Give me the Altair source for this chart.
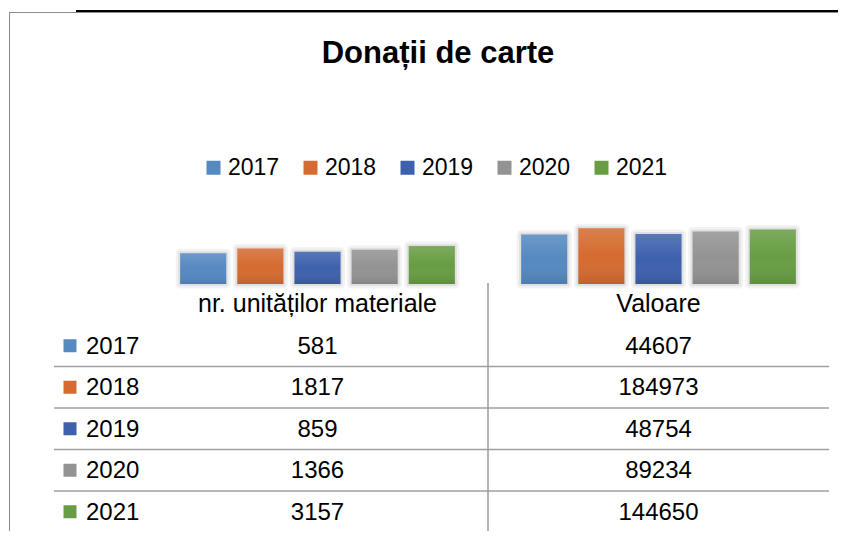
import altair as alt
import pandas as pd

title_text = "Donații de carte"
categories = ["nr. unităților materiale", "Valoare"]
years = ["2017", "2018", "2019", "2020", "2021"]
units = [581, 1817, 859, 1366, 3157]
values = [44607, 184973, 48754, 89234, 144650]
colors = ["#5589C0", "#D56B30", "#3E61AD", "#939393", "#689D44"]

rows = []
for yr, u, v in zip(years, units, values):
    rows.append({"category": categories[0], "year": yr, "value": u})
    rows.append({"category": categories[1], "year": yr, "value": v})
df = pd.DataFrame(rows)
df_years = pd.DataFrame({"year": years})
df_cats = pd.DataFrame({"category": categories})

FONT = "Liberation Sans"
W, H = 830, 523

x_scale = alt.Scale(domain=categories, range=[139, 821], paddingInner=0, paddingOuter=0)
xoff_scale = alt.Scale(domain=years, paddingInner=0.193, paddingOuter=0.58)
y_bar = alt.Scale(type="log", domain=[0.5, 1e6], range=[276, 213], nice=False)
row_scale = alt.Scale(domain=years, range=[317, 524.5], paddingInner=0, paddingOuter=0)
color_scale = alt.Scale(domain=years, range=colors)

X = alt.X("category:N", scale=x_scale, axis=None)

base_bar = alt.Chart(df).encode(
    x=X,
    xOffset=alt.XOffset("year:N", scale=xoff_scale),
    y=alt.Y("value:Q", scale=y_bar, axis=None),
    y2=alt.datum(0.5),
)

shadow1 = base_bar.mark_bar(fill="#000", fillOpacity=0, stroke="#000",
                            strokeOpacity=0.05, strokeWidth=9, strokeJoin="round")
shadow2 = base_bar.mark_bar(fill="#000", fillOpacity=0, stroke="#000",
                            strokeOpacity=0.07, strokeWidth=4, strokeJoin="round")

bars = base_bar.mark_bar().encode(
    color=alt.Color(
        "year:N", scale=color_scale,
        legend=alt.Legend(
            title=None, orient="none", legendX=194, legendY=148,
            direction="horizontal", columns=5, symbolType="square",
            symbolSize=196, symbolStrokeWidth=0, symbolOpacity=1,
            labelFontSize=23, labelFont=FONT, labelColor="#000",
            labelOffset=3, columnPadding=19, padding=0,
        ),
    )
)

overlay = base_bar.mark_bar(
    fill=alt.Gradient(
        gradient="linear",
        stops=[
            alt.GradientStop(color="rgba(255,255,255,0.14)", offset=0),
            alt.GradientStop(color="rgba(255,255,255,0.0)", offset=0.5),
            alt.GradientStop(color="rgba(0,0,0,0.10)", offset=1),
        ],
        x1=0, x2=0, y1=0, y2=1,
    )
)

title = alt.Chart(pd.DataFrame({"t": [title_text]})).mark_text(
    font=FONT, fontSize=31, fontWeight="bold", color="#000", baseline="alphabetic"
).encode(x=alt.value(430), y=alt.value(55), text="t:N")

headers = alt.Chart(df_cats).mark_text(
    font=FONT, fontSize=25, color="#000", baseline="alphabetic"
).encode(x=X, y=alt.value(304), text="category:N")

vals = alt.Chart(df).mark_text(
    font=FONT, fontSize=24, color="#000", baseline="middle", dy=1
).encode(
    x=X,
    y=alt.Y("year:N", scale=row_scale, axis=None),
    text=alt.Text("value:Q", format="d"),
)

row_keys = alt.Chart(df_years).mark_point(
    shape="square", filled=True, size=169, opacity=1
).encode(
    x=alt.value(62),
    y=alt.Y("year:N", scale=row_scale, axis=None),
    color=alt.Color("year:N", scale=color_scale, legend=None),
)

row_labels = alt.Chart(df_years).mark_text(
    font=FONT, fontSize=24, color="#000", align="left", baseline="middle", dy=1
).encode(
    x=alt.value(78),
    y=alt.Y("year:N", scale=row_scale, axis=None),
    text="year:N",
)

hlines = alt.Chart(df_years[df_years["year"] != years[0]]).mark_rule(
    color="#a0a0a0", strokeWidth=1.5
).encode(
    y=alt.Y("year:N", scale=row_scale, axis=None, bandPosition=0),
    x=alt.value(46), x2=alt.value(821),
)

vline = alt.Chart(pd.DataFrame({"category": [categories[1]]})).mark_rule(
    color="#9a9a9a", strokeWidth=1.5
).encode(
    x=alt.X("category:N", scale=x_scale, axis=None, bandPosition=0),
    y=alt.value(275), y2=alt.value(523),
)

border_top = alt.Chart(df_cats).mark_rule(color="#8c8c8c", strokeWidth=1).encode(
    x=alt.value(1), x2=alt.value(W), y=alt.value(4.5)
)
border_left = alt.Chart(df_cats).mark_rule(color="#8c8c8c", strokeWidth=1).encode(
    x=alt.value(1.5), y=alt.value(4), y2=alt.value(H)
)
black_top = alt.Chart(df_cats).mark_rule(color="#000", strokeWidth=2).encode(
    x=alt.value(68), x2=alt.value(W), y=alt.value(3)
)

chart = alt.layer(
    border_top, border_left, black_top,
    shadow1, shadow2, bars, overlay,
    title, headers, vals, row_keys, row_labels, hlines, vline,
).resolve_scale(y="independent").properties(
    width=W, height=H, padding=0,
    autosize=alt.AutoSizeParams(type="none"),
    background="white",
).configure_view(stroke=None)

chart.save("out.html", embed_options={"renderer": "svg", "actions": False})
